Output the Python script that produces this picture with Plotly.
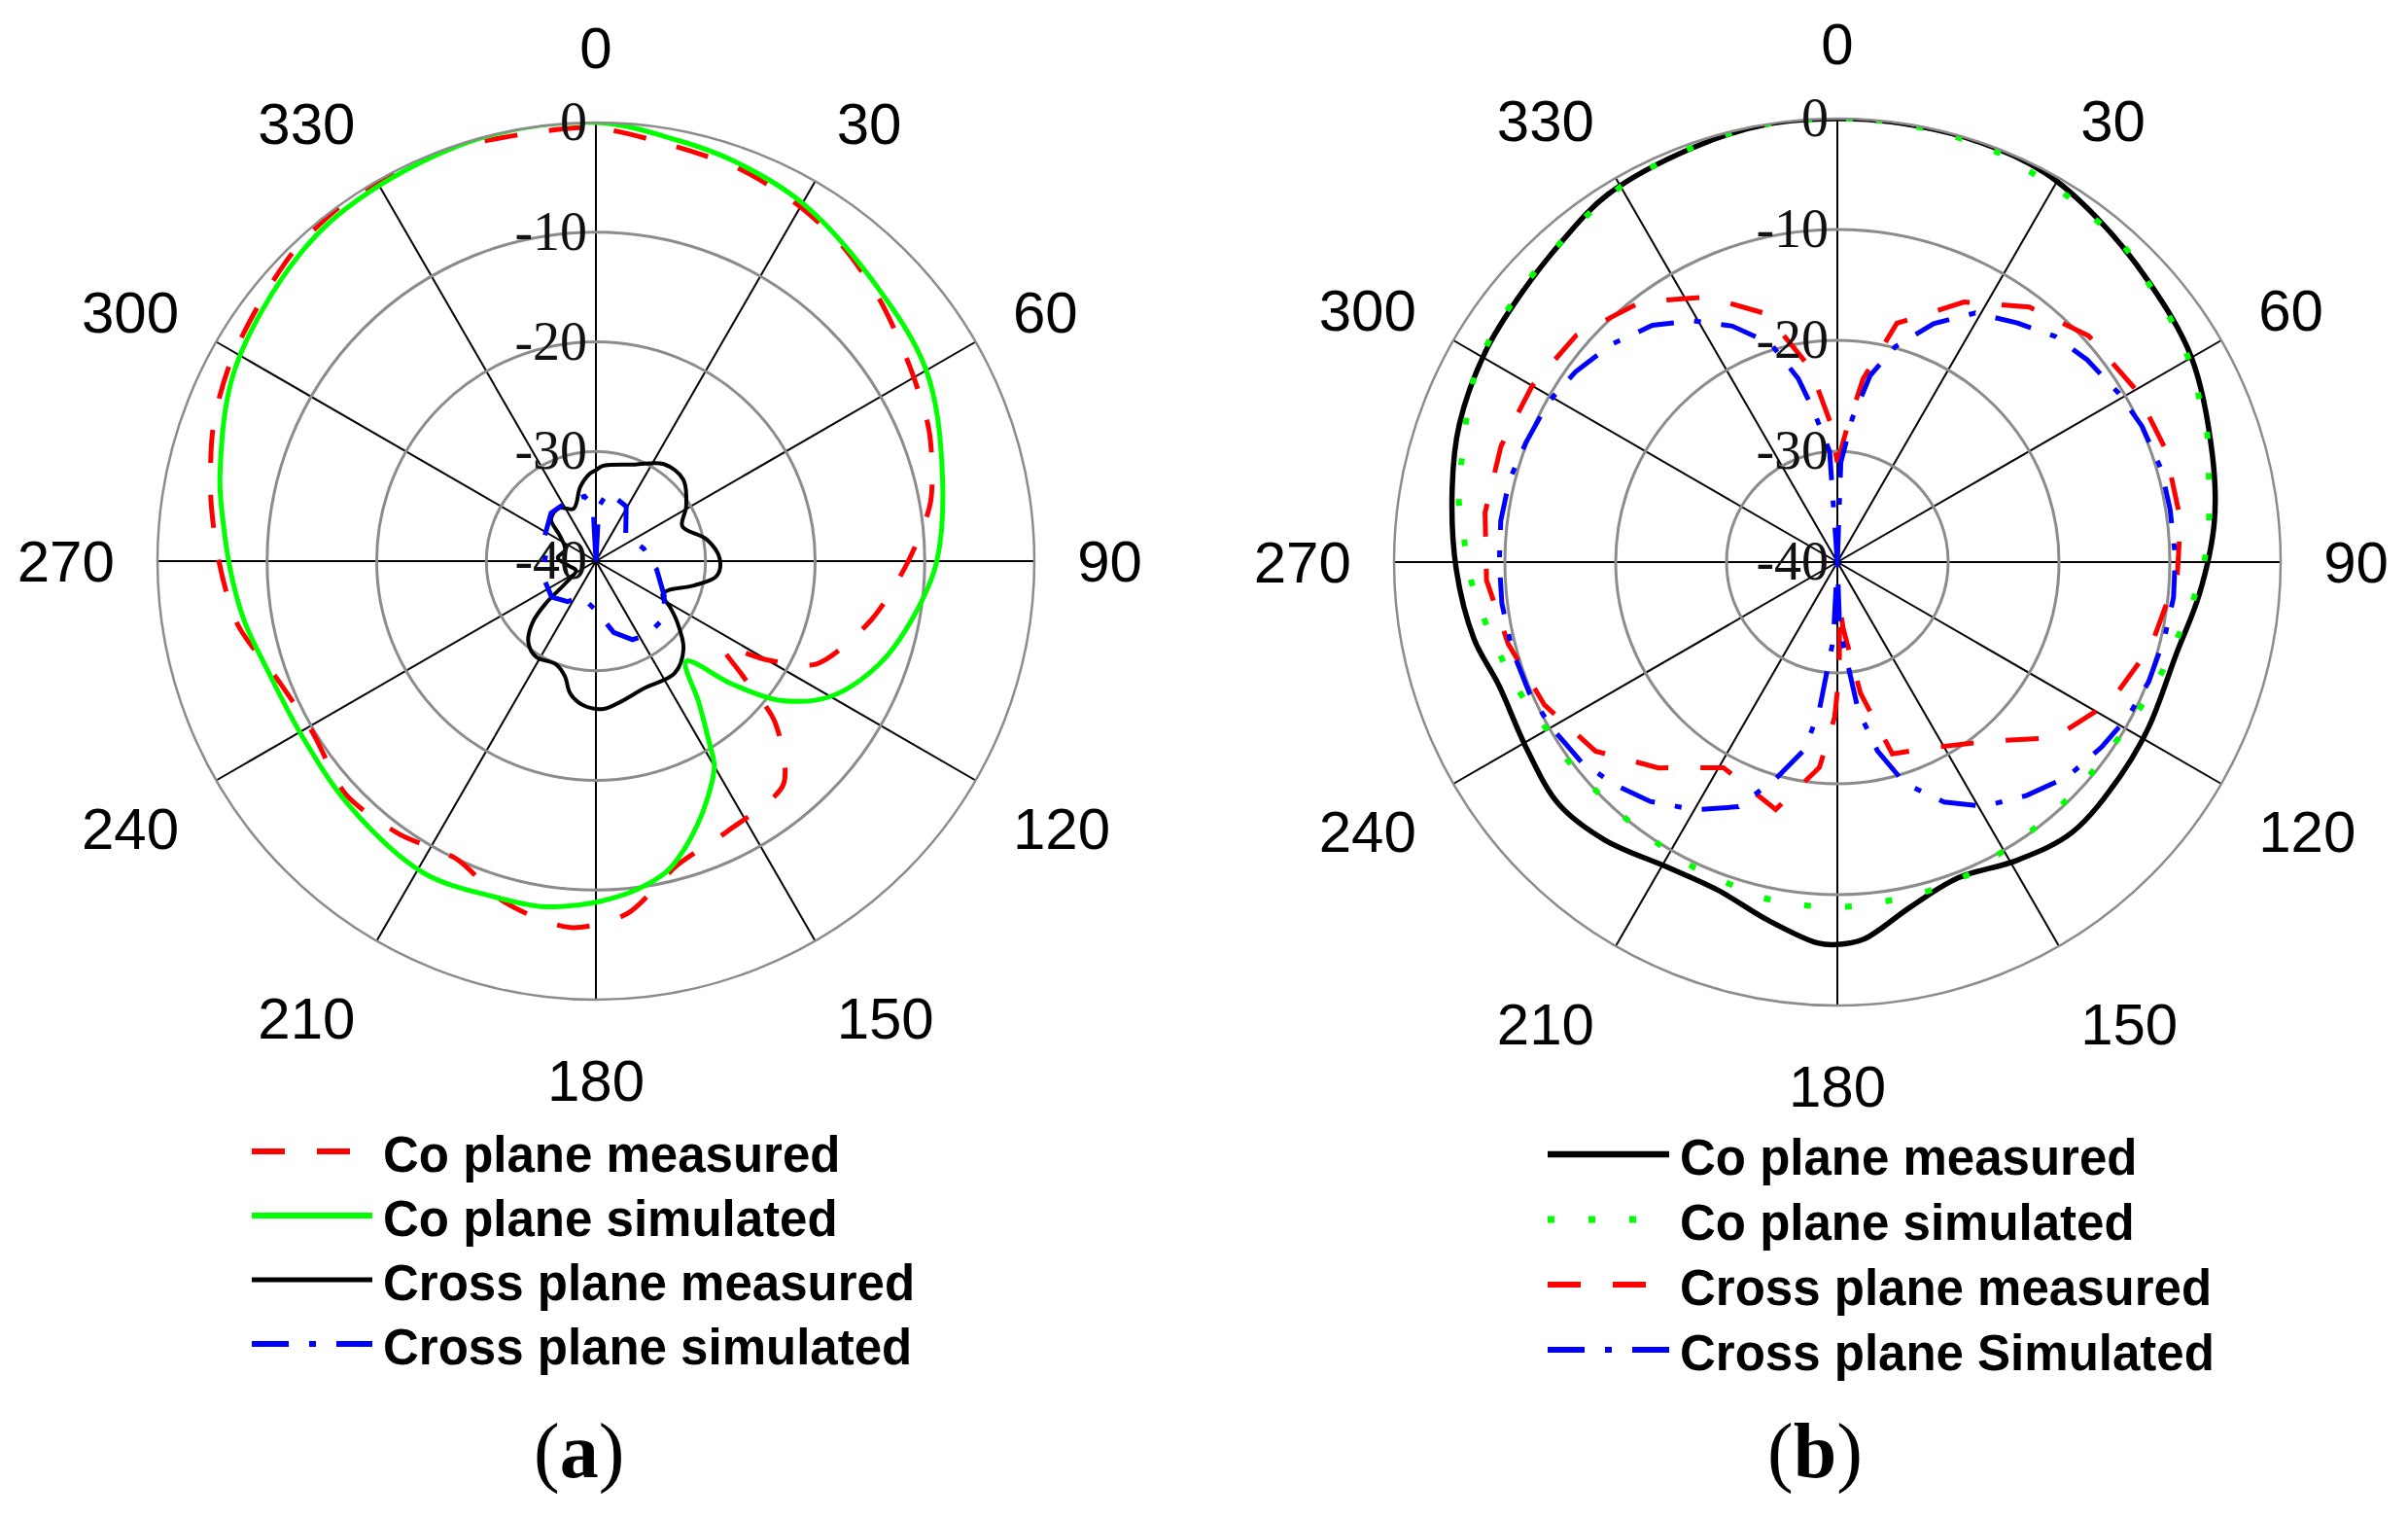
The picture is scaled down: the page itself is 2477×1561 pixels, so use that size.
import plotly.graph_objects as go

PAGE_W, PAGE_H = 2477, 1561
OFF = 8  # default body margin of the html page
W, H = PAGE_W - 2 * OFF, PAGE_H - 2 * OFF

angle_ticks = [0, 30, 60, 90, 120, 150, 180, 210, 240, 270, 300, 330]
angle_labels = [str(a) for a in angle_ticks]
radial_ticks = [-40, -30, -20, -10, 0]
radial_labels = ["-40", "-30", "-20", "-10", "0"]

# ---------------- (a) ----------------
a_names = ["Co plane measured", "Co plane simulated", "Cross plane measured", "Cross plane simulated"]

a_co_meas_theta = [0, 11, 20, 29, 38, 48, 59, 69, 80, 90, 102, 115, 120, 124, 128, 132, 140, 154, 165, 175,
                   184, 195, 205, 216, 227, 239, 249, 260, 270, 280, 290, 299, 308, 316, 325, 338, 352, 360]
a_co_meas_r = [-0.5, -1.5, -1.9, -2.6, -3.5, -4.9, -6.4, -7.4, -9.0, -11.5, -14.3, -17.8, -22.0, -26.0, -23.0,
               -18.0, -13.4, -12.6, -11.3, -7.7, -6.5, -7.8, -10.0, -9.3, -8.8, -9.8, -9.1, -6.8, -5.6, -4.3,
               -2.9, -2.0, -1.3, -0.5, -0.1, 0.0, -0.5, -0.5]

a_co_sim_theta = [0, 11, 19, 30, 45, 60, 75, 90, 100, 110, 120, 127, 132, 138, 144, 148, 150, 155, 159, 163,
                  167, 173, 179, 184, 189, 197, 209, 225, 239, 252, 260, 267, 276, 283, 298, 316, 328, 345, 360]
a_co_sim_r = [0, -0.9, -1.4, -2.3, -4.1, -5.2, -7.3, -8.9, -10.6, -12.5, -15.3, -18.9, -23.2, -27.7, -24.0,
              -20.5, -18.4, -16.0, -14.2, -12.5, -11.0, -9.8, -9.0, -8.5, -8.1, -8.0, -7.5, -8.3, -8.8, -8.4,
              -7.5, -6.8, -5.8, -4.8, -2.7, -1.1, -0.5, 0, 0]

a_x_meas_theta = [0, 4, 22, 35, 47, 59, 68, 79, 89, 97, 104, 112, 117, 122, 127, 135, 145, 159, 171, 177,
                  185, 191, 195, 201, 212, 220, 226, 230, 234, 245, 260, 275, 290, 305, 313, 325, 337, 348, 356, 360]
a_x_meas_r = [-31.7, -31.3, -30.5, -29.2, -29.1, -30.4, -31.5, -29.7, -28.7, -28.9, -30.8, -32.9, -33.2, -32.0,
              -30.7, -28.7, -27.5, -27.6, -26.9, -26.5, -26.8, -27.7, -29.1, -29.9, -29.7, -30.4, -32.0, -34.1,
              -36.6, -38.0, -37.5, -36.5, -37.0, -36.0, -34.4, -34.1, -34.8, -33.1, -32.0, -31.7]

a_x_sim_theta = [0, 3, 10, 29, 49, 75, 98, 117, 130, 145, 155, 166, 180, 201, 215, 231, 250, 265, 277, 296,
                 317, 334, 350, 357, 360]
a_x_sim_r = [-40, -35, -33.6, -34.3, -36.4, -35.5, -34.4, -33, -31.9, -31.8, -32.1, -33.3, -35.5, -36.5, -35.5,
             -34.8, -35, -35.2, -35.4, -34.8, -34, -34, -34, -35, -40]

# ---------------- (b) ----------------
b_names = ["Co plane measured", "Co plane simulated", "Cross plane measured", "Cross plane Simulated"]

b_co_meas_theta = [0, 7, 18, 28, 37, 48, 60, 74, 84, 95, 105, 118, 127, 139, 149, 159, 168, 176, 180,
                   183, 191, 200, 209, 220, 229, 239, 250, 258, 269, 281, 290, 301, 310, 319, 328, 341, 351, 360]
b_co_meas_r = [0, 0, 0, -0.2, -1.1, -2.2, -3.1, -4.8, -5.8, -7.2, -8.3, -8.2, -8.0, -7.7, -8.6, -9.5,
               -8.2, -5.9, -5.5, -5.6, -7.1, -8.5, -8.5, -7.3, -6.7, -7.3, -7.5, -6.5, -5.6, -4.6, -3.7, -3.0,
               -2.6, -1.9, -0.9, -0.4, 0, 0]

b_co_sim_theta = [0, 5, 11, 16, 21, 26, 32, 37, 42, 48, 54, 60, 66, 71, 77, 83, 90, 96, 102, 109, 116, 123,
                  130, 136, 144, 151, 158, 165, 172, 179, 186, 193, 199, 206, 213, 219, 227, 234, 241, 248,
                  255, 261, 268, 274, 280, 286, 292, 299, 310, 320, 330, 340, 350, 360]
b_co_sim_r = [0, 0, -0.1, -0.2, -0.3, -0.7, -1.0, -1.3, -1.5, -2.3, -2.8, -3.4, -4.2, -4.7, -5.6, -6.2, -6.9,
              -7.7, -8.5, -9.1, -9.7, -10.1, -10.2, -10.2, -10.1, -9.9, -9.4, -9.2, -9.1, -8.9, -8.9, -9.0,
              -9.4, -9.6, -9.9, -10.0, -10.0, -9.8, -9.7, -9.0, -8.4, -7.7, -6.8, -6.2, -5.3, -4.8, -4.0,
              -3.0, -2.4, -1.8, -0.9, -0.4, 0, 0]

b_x_meas_theta = [0, 4, 8, 14, 26, 37, 48, 60, 71, 83, 92, 105, 117, 129, 140, 153, 164, 170, 175, 177, 179,
                  181, 185, 194, 209, 221, 232, 244, 256, 267, 278, 289, 300, 311, 323, 334, 344, 352, 357, 360]
b_x_meas_r = [-31, -28, -23.3, -17.8, -13.9, -11.2, -9.5, -8.9, -8.7, -8.8, -9.3, -10.7, -12.3, -14.8, -18.9,
              -21.2, -22, -28, -34, -36, -30, -26, -21.4, -17.0, -18.8, -15.4, -12.3, -10.6, -9.4, -8.3, -7.9,
              -7.9, -8.2, -8.8, -10.6, -13.4, -16.7, -22.3, -27.3, -31]

b_x_sim_theta = [0, 2, 6, 10, 15, 22, 29, 37, 44, 51, 59, 66, 74, 81, 89, 96, 103, 111, 118, 125, 133, 141,
                 149, 156, 163, 168, 172, 174, 178, 180, 183, 187, 190, 196, 202, 210, 218, 225, 232, 240, 247,
                 255, 263, 270, 277, 284, 291, 299, 306, 314, 322, 329, 336, 343, 348, 351, 356, 360]
b_x_sim_r = [-40, -31, -26.9, -22.9, -19.9, -16.8, -14.3, -13.0, -11.7, -11.0, -10.4, -9.9, -9.6, -9.6, -9.5,
             -9.5, -9.7, -9.9, -10.3, -10.9, -11.6, -12.9, -14.3, -16.3, -19.1, -22.6, -26.5, -30.5, -34, -40,
             -33, -26.4, -22.8, -19.6, -16.2, -14.2, -12.6, -11.6, -10.7, -10.2, -9.8, -9.6, -9.5, -9.5, -9.4,
             -9.5, -9.9, -10.2, -10.8, -11.7, -12.9, -14.6, -16.7, -19.4, -23.1, -26.1, -30, -40]

# styles (colour, dash, width, shape, smoothing)
RED, GREEN, BLACK, BLUE = "#ff0000", "#00ff00", "#000000", "#0000ff"
DASH = "34px,33px"
DOT = "7px,35px"
DASHDOT = "38px,21px,7px,21px"

a_series = [
    (a_co_meas_theta, a_co_meas_r, RED, DASH, 5, "spline", 0.8),
    (a_co_sim_theta, a_co_sim_r, GREEN, "solid", 5, "spline", 1.0),
    (a_x_meas_theta, a_x_meas_r, BLACK, "solid", 4, "spline", 1.0),
    (a_x_sim_theta, a_x_sim_r, BLUE, DASHDOT, 5, "linear", 0),
]
b_series = [
    (b_co_meas_theta, b_co_meas_r, BLACK, "solid", 5.5, "spline", 1.0),
    (b_co_sim_theta, b_co_sim_r, GREEN, DOT, 6, "spline", 1.0),
    (b_x_meas_theta, b_x_meas_r, RED, DASH, 5, "linear", 0),
    (b_x_sim_theta, b_x_sim_r, BLUE, DASHDOT, 5, "linear", 0),
]

fig = go.Figure()
for name_list, series, sub in ((a_names, a_series, "polar"), (b_names, b_series, "polar2")):
    for i, (th, r, col, dash, wd, shp, sm) in enumerate(series):
        line = dict(color=col, dash=dash, width=wd, shape=shp)
        if shp == "spline":
            line["smoothing"] = sm
        fig.add_trace(go.Scatterpolar(
            theta=th, r=r, mode="lines", name=name_list[i], subplot=sub,
            line=line, showlegend=False, hoverinfo="skip"))

SANS = "Liberation Sans, Arial, sans-serif"
SERIF = "Liberation Serif, Times New Roman, serif"


def polar_layout(xdom, ydom):
    return dict(
        domain=dict(x=xdom, y=ydom),
        bgcolor="rgba(0,0,0,0)",
        angularaxis=dict(
            direction="clockwise", rotation=90,
            tickmode="array", tickvals=angle_ticks, ticktext=angle_labels,
            tickfont=dict(family=SANS, size=60, color="#000"),
            ticks="outside", ticklen=31, tickcolor="rgba(0,0,0,0)",
            showgrid=True, gridcolor="#000", gridwidth=1.8,
            showline=True, linecolor="#8c8c8c", linewidth=2.5,
        ),
        radialaxis=dict(
            range=[-40, 0], angle=90, side="counterclockwise", tickangle=90,
            tickmode="array", tickvals=radial_ticks, ticktext=radial_labels,
            tickfont=dict(family=SERIF, size=56, color="#111"),
            ticks="", showline=False,
            showgrid=True, gridcolor="#8c8c8c", gridwidth=2.5,
        ),
    )


def px(x):
    return (x - OFF) / W


def py(y):
    return 1 - (y - OFF) / H


L_CX, L_CY, L_R = 613, 577, 451
R_CX, R_CY, R_R = 1890, 578, 456


def dom(cx, cy, rr):
    return ([px(cx - rr), px(cx + rr)], [py(cy + rr), py(cy - rr)])


lx, ly = dom(L_CX, L_CY, L_R)
rx, ry = dom(R_CX, R_CY, R_R)

shapes = []
annotations = []


def add_legend(names, series, x0, x1, xt, rows):
    for i, name in enumerate(names):
        col, dash, wd = series[i][2], series[i][3], series[i][4]
        shapes.append(dict(type="line", xref="paper", yref="paper", x0=px(x0), x1=px(x1),
                           y0=py(rows[i]), y1=py(rows[i]),
                           line=dict(color=col, dash=dash, width=wd + 1)))
        annotations.append(dict(xref="paper", yref="paper", x=px(xt), y=py(rows[i] + 3),
                                xanchor="left", yanchor="middle", showarrow=False, text=name,
                                font=dict(family=SANS, size=51, color="#000", weight="bold")))


add_legend(a_names, a_series, 259, 383, 392, [1184, 1250, 1316, 1382])
add_legend(b_names, b_series, 1592, 1717, 1726, [1187, 1254, 1321, 1388])

for lab, xc in (("(<b>a</b>)", 595), ("(<b>b</b>)", 1867)):
    annotations.append(dict(xref="paper", yref="paper", x=px(xc), y=py(1492), xanchor="center",
                            yanchor="middle", showarrow=False, text=lab,
                            font=dict(family=SERIF, size=80, color="#000")))

fig.update_layout(
    width=W, height=H, margin=dict(l=0, r=0, t=0, b=0),
    paper_bgcolor="white", plot_bgcolor="white",
    polar=polar_layout(lx, ly), polar2=polar_layout(rx, ry),
    shapes=shapes, annotations=annotations, showlegend=False,
)

fig.write_html("out.html")
